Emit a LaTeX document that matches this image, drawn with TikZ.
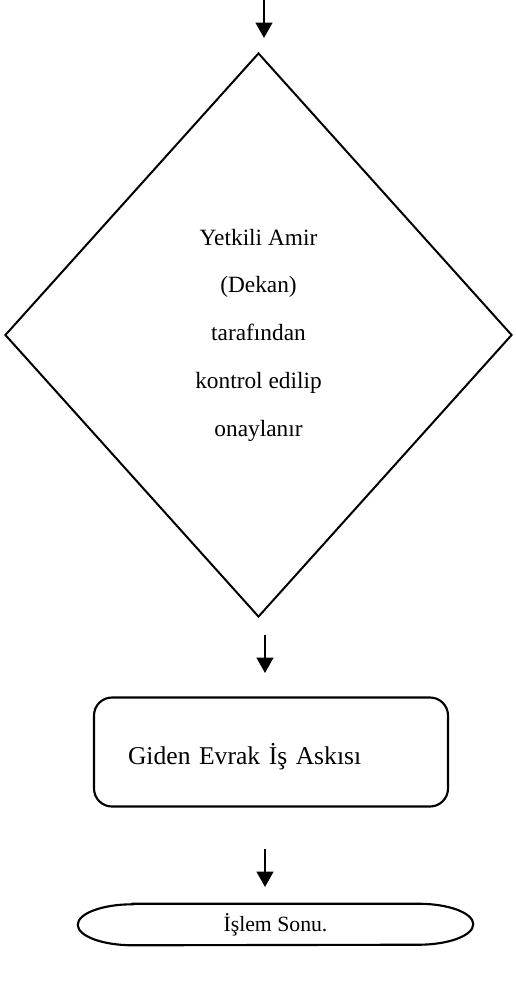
\documentclass[tikz,border=0pt]{standalone}
\usepackage{fontspec}
\setmainfont{Liberation Serif}
\usepackage{tikz}
\usetikzlibrary{arrows.meta,shapes.geometric}
\def\pxu{0.75pt}
\tikzset{
	flowline/.style={line width=1.6pt, -{Triangle[length=11.5pt, width=12.5pt]}},
	decisionbox/.style={draw, diamond, line width=1.5pt, inner sep=0pt, minimum width=507*\pxu, minimum height=564*\pxu, align=center, font=\fontsize{17.5}{35.8}\selectfont},
	processbox/.style={draw, rectangle, rounded corners=13.5pt, line width=1.6pt, minimum width=354*\pxu, minimum height=109*\pxu, inner xsep=34*\pxu, text width=286*\pxu, text height=18pt, text depth=0pt, align=left, font=\fontsize{19.2}{23}\selectfont},
	endbox/.style={rectangle, minimum width=395*\pxu, minimum height=41*\pxu, inner sep=0pt, font=\fontsize{16.3}{20}\selectfont}
}

\begin{document}
\begin{tikzpicture}[x=0.75pt, y=0.75pt]
			%%%%% START %%%%%
			
			\useasboundingbox (0, 0) rectangle (515, -981);
			
			\coordinate (in1) at (264, 0);
			\coordinate (out1) at (264, -38);
			\draw[flowline] (in1) -- (out1);
			
			\node[decisionbox] (onay) at (258.5, -335) {Yetkili Amir\\(Dekan)\\tarafından\\kontrol edilip\\onaylanır};
			
			\coordinate (in2) at (265, -635);
			\coordinate (out2) at (265, -673);
			\draw[flowline] (in2) -- (out2);
			
			\node[processbox] (giden) at (271, -752) {Giden Evrak İş Askısı};
			
			\coordinate (in3) at (265, -849);
			\coordinate (out3) at (265, -887);
			\draw[flowline] (in3) -- (out3);
			
			\node[endbox] (son) at (275.5, -924.5) {İşlem Sonu.};
			\draw[line width=1.6pt] ([xshift=41.25pt]son.north west) -- ([xshift=-41.25pt]son.north east)
				arc[start angle=90, end angle=-90, x radius=41.25pt, y radius=15.375pt]
				-- ([xshift=41.25pt]son.south west)
				arc[start angle=270, end angle=90, x radius=41.25pt, y radius=15.375pt] -- cycle;
			
			%%%%% END %%%%%
		\end{tikzpicture}
\end{document}
